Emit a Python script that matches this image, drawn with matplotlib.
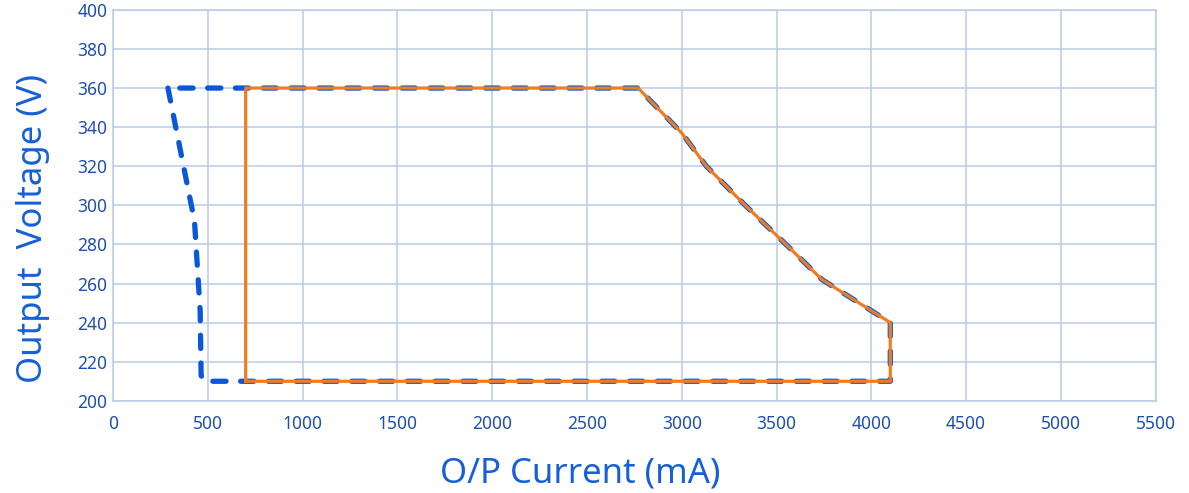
import matplotlib.pyplot as plt

plt.rcParams['font.family'] = ['Noto Sans', 'DejaVu Sans']
plt.rcParams['lines.scale_dashes'] = False

# blue dashed curve (mA, V)
blue_i = [290, 430, 460, 465, 480, 4100, 4100, 3740, 3550, 3335, 3130, 3000, 2770, 290]
blue_v = [360, 292, 246, 213, 210, 210, 240, 262, 280, 300, 320, 337, 360, 360]

# orange solid curve (mA, V)
orange_i = [700, 700, 2770, 3000, 3130, 3335, 3550, 3740, 4100, 4100, 700]
orange_v = [210, 360, 360, 337, 320, 300, 280, 262, 240, 210, 210]

x_ticks = list(range(0, 5501, 500))
y_ticks = list(range(200, 401, 20))

grid_col = '#b8cbe6'
tick_col = '#1f4fae'
label_col = '#1560d8'

fig = plt.figure(figsize=(11.89, 4.93), dpi=100)
ax = fig.add_axes([0.095, 0.187, 0.877, 0.793])

ax.plot(blue_i, blue_v, color='#0a57d9', lw=3.8, dashes=(9.5, 10.5),
        solid_capstyle='round', dash_capstyle='round', zorder=3)
ax.plot(orange_i, orange_v, color='#ef7d1f', lw=2.3, zorder=4)

ax.set_xlim(0, 5500)
ax.set_ylim(200, 400)
ax.set_xticks(x_ticks)
ax.set_yticks(y_ticks)
ax.grid(True, color=grid_col, lw=1.1)
ax.set_axisbelow(True)
for s in ax.spines.values():
    s.set_color(grid_col)
    s.set_linewidth(1.1)
ax.tick_params(length=0, colors=tick_col, labelsize=12.5)
ax.tick_params(axis='x', pad=10)
ax.tick_params(axis='y', pad=4)

ax.set_xlabel('O/P Current (mA)', fontsize=25, color=label_col)
ax.set_ylabel('Output  Voltage (V)', fontsize=25, color=label_col)
ax.xaxis.set_label_coords(0.448, -0.142)
ax.yaxis.set_label_coords(-0.060, 0.442)

fig.savefig('out.png', dpi=100)
